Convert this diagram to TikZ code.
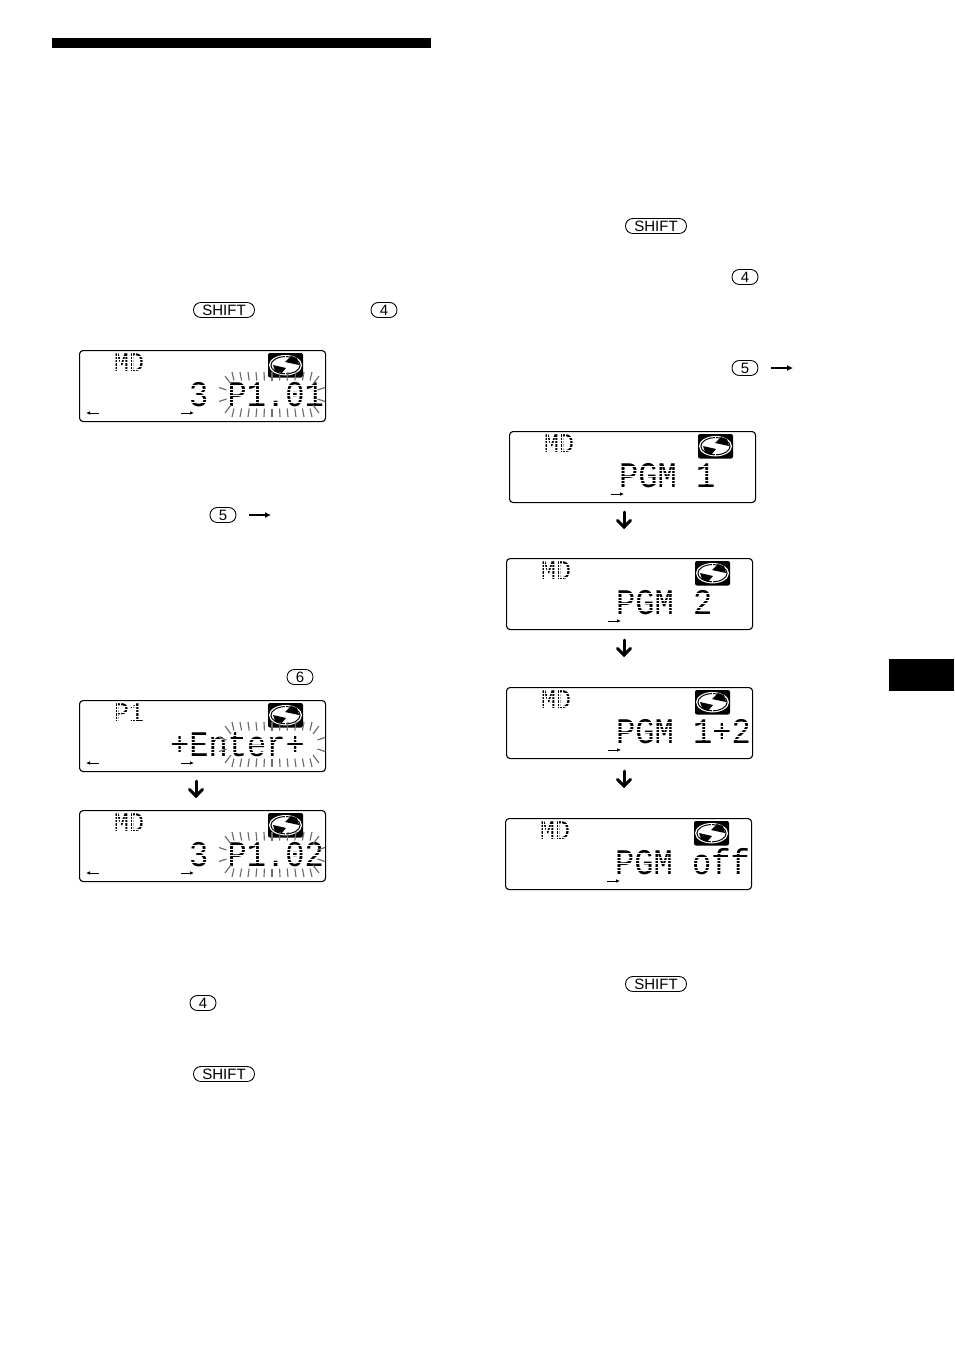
\documentclass[tikz,border=0pt]{standalone}
\usepackage{fontspec}
\usepackage{graphicx}
\setmainfont{Liberation Sans}
\newfontfamily\lcdmono{Liberation Mono}
\usetikzlibrary{arrows.meta}
\newcommand{\lcdmain}[1]{\fontsize{36}{36}\selectfont\lcdmono\scalebox{.89}[1]{#1}}
\newcommand{\lcdtop}[1]{\fontsize{27}{27}\selectfont\lcdmono\scalebox{.92}[1]{#1}}
\tikzset{
  pillbtn/.style={draw=black,line width=.9pt,rounded corners=7.4pt,minimum height=15pt,inner sep=0pt,font=\fontsize{15}{15}\selectfont,text=black},
  shiftbtn/.style={pillbtn,minimum width=61pt},
  numbtn/.style={pillbtn,minimum width=26pt},
  lcdbox/.style={draw=black,line width=1.1pt,rounded corners=3.5pt,minimum width=246pt,minimum height=71pt,inner sep=0pt,anchor=north west},
  lcdtext/.style={anchor=base west,inner sep=0pt,text=black},
  tinyarrow/.style={line width=.8pt,-{Latex[length=4pt,width=3.6pt]}},
  btnarrow/.style={line width=1.1pt,-{Latex[length=6pt,width=6pt]}},
  nextarrow/.style={line width=3pt,line cap=round,black},
  ray/.style={line width=1.15pt,gray!85!black},
  gridline/.style={white,line width=.75pt},
}
% name, x, y, top text, main text, main-text x offset, 1 = left arrow too
\newcommand{\lcd}[7]{%
  \begin{scope}[shift={(#2,#3)}]
    \node[lcdbox] (#1box) at (0,0) {};
    \node[lcdtext] (#1top) at (35,21) {\lcdtop{#4}};
    \node[lcdtext] (#1main) at (#6,56) {\lcdmain{#5}};
    \foreach \yy in {6,9.4,12.8,16.2,19.6} \draw[gridline] (33,\yy) -- (70,\yy);
    \foreach \xx in {38.5,41.5,53,56.5} \draw[gridline] (\xx,2) -- (\xx,22);
    \foreach \yy in {35.5,38.9,42.3,45.7,49.1,52.5} \draw[gridline] (88,\yy) -- (243.5,\yy);
    \fill[black,rounded corners=2pt] (189,3) rectangle (224,27.5);
    \fill[white] (206.5,15.2) ellipse (16.5 and 10.2);
    \draw[black,line width=1pt] (206.5,15.2) ellipse (14.6 and 8.6);
    \fill[black] (194,15) -- (207,18) -- (202,24) -- (196,21) -- cycle;
    \fill[black] (206,12) -- (212,6) -- (218,8) -- (220,15) -- cycle;
    \draw[white,line width=.9pt] (206.5,5) -- (206.5,8) (206.5,22) -- (206.5,25.4);
    \coordinate (#1ra) at (102,63); \coordinate (#1rb) at (115,63);
    \draw[tinyarrow] (#1ra) -- (#1rb);
    \ifnum#7=1
      \coordinate (#1la) at (20,63); \coordinate (#1lb) at (7,63);
      \draw[tinyarrow] (#1la) -- (#1lb);
      \foreach \j in {-5,...,5} {
        \draw[ray] ({193+\j*8.0},22) -- ({193+\j*7.6},30.5);
        \draw[ray] ({193+\j*8.0},67) -- ({193+\j*7.6},58.5);
      }
      \foreach \s in {-1,1} {
        \draw[ray] ({193+\s*47},26) -- ({193+\s*41},34);
        \draw[ray] ({193+\s*47},63) -- ({193+\s*41},55);
        \draw[ray] ({193+\s*53},37.5) -- ({193+\s*45.5},40);
        \draw[ray] ({193+\s*53},51.5) -- ({193+\s*45.5},49);
      }
    \fi
  \end{scope}}
\newcommand{\nextarr}[3]{%
  \coordinate (#1a) at (#2,{#3-8}); \coordinate (#1b) at (#2,{#3+7});
  \coordinate (#1l) at ({#2-6.5},{#3+.5}); \coordinate (#1r) at ({#2+6.5},{#3+.5});
  \draw[nextarrow] (#1a) -- (#1b);
  \draw[nextarrow] (#1l) -- (#1b) -- (#1r);}
\begin{document}
\begin{tikzpicture}[x=1pt,y=-1pt]
\useasboundingbox (0,0) rectangle (954,1352);
\fill[white] (0,0) rectangle (954,1352);
\fill[black] (52,38) rectangle (431,48);
\fill[black] (889,659) rectangle (954,691);

\node[shiftbtn] (s1) at (224,310) {SHIFT};
\node[numbtn] (n4a) at (384,310) {4};
\node[numbtn] (n5a) at (223,515) {5};
\coordinate (a5s) at (249,515); \coordinate (a5e) at (271,515);
\draw[btnarrow] (a5s) -- (a5e);
\node[numbtn] (n6) at (300,677) {6};
\node[numbtn] (n4b) at (203,1003) {4};
\node[shiftbtn] (s2) at (224,1074) {SHIFT};
\node[shiftbtn] (s3) at (656,226) {SHIFT};
\node[numbtn] (n4c) at (745,277) {4};
\node[numbtn] (n5b) at (745,368) {5};
\coordinate (b5s) at (771,368); \coordinate (b5e) at (793,368);
\draw[btnarrow] (b5s) -- (b5e);
\node[shiftbtn] (s4) at (656,984) {SHIFT};

\lcd{da}{79}{350}{MD}{3 P1.01}{110}{1}
\lcd{db}{79}{700}{P1}{+Enter+}{91}{1}
\lcd{dc}{79}{810}{MD}{3 P1.02}{110}{1}
\lcd{dd}{509}{431}{MD}{PGM 1}{110}{0}
\lcd{de}{506}{558}{MD}{PGM 2}{110}{0}
\lcd{df}{506}{687}{MD}{PGM 1+2}{110}{0}
\lcd{dg}{505}{818}{MD}{PGM off}{110}{0}

\nextarr{ua}{196}{789}
\nextarr{ub}{624}{520}
\nextarr{uc}{624}{648}
\nextarr{ud}{624}{779}
\end{tikzpicture}
\end{document}
